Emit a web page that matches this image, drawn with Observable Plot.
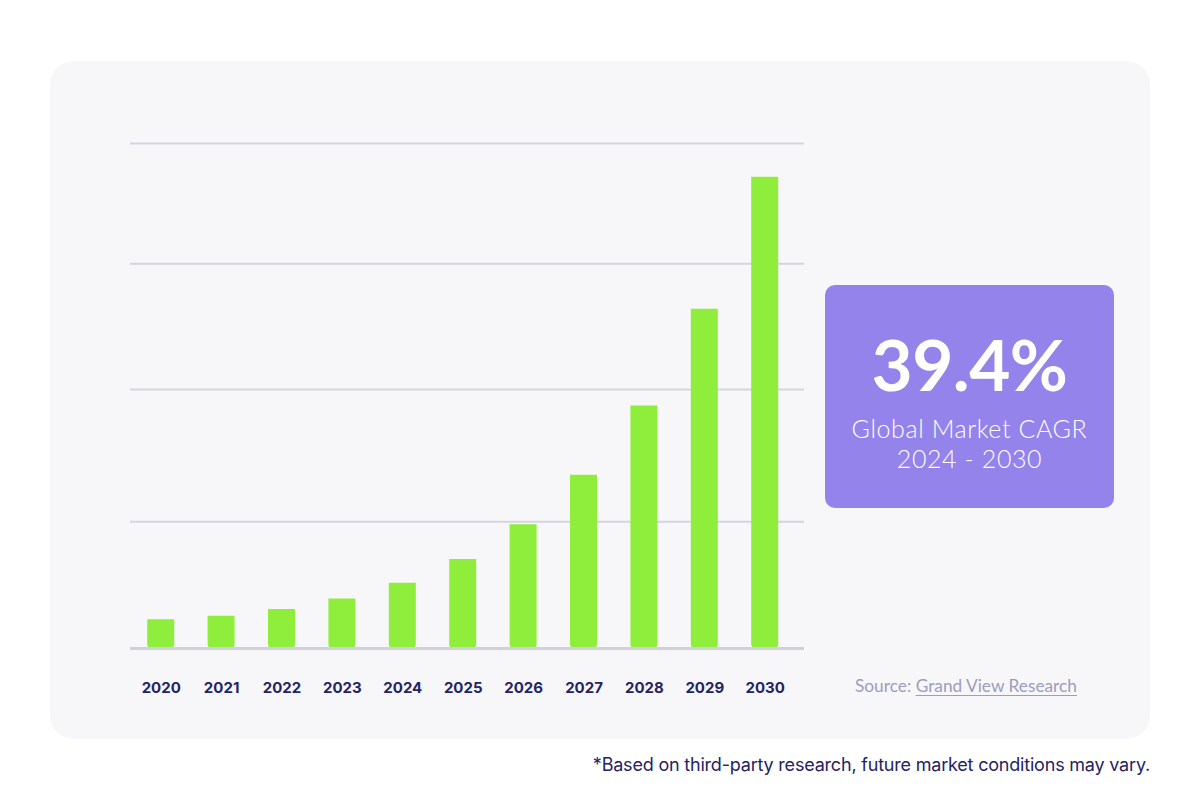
<!DOCTYPE html>
<html>
<head>
<meta charset="utf-8">
<script src="https://cdn.jsdelivr.net/npm/d3@7"></script>
<script src="https://cdn.jsdelivr.net/npm/@observablehq/plot@0.6"></script>
<style>
  html, body { margin: 0; padding: 0; background: #ffffff; }
  #root { position: relative; width: 1200px; height: 800px; overflow: hidden; font-family: Lato, "Open Sans", sans-serif; }
  #card { position: absolute; left: 50px; top: 61px; width: 1100px; height: 678px; background: #f7f7f9; border-radius: 24px; }
  #chart { position: absolute; left: 0; top: 0; }
  #callout { position: absolute; left: 825px; top: 285px; width: 289px; height: 223px; background: #9583ec; border-radius: 10px; color: #ffffff; text-align: center; }
  #callout .big { position: absolute; left: 0; right: 0; top: 43px; font-size: 71px; line-height: 71px; font-weight: 700; letter-spacing: -0.5px; }
  #callout .l1 { position: absolute; left: 0; right: 0; top: 127.5px; font-size: 25px; line-height: 30px; font-weight: 300; letter-spacing: 0.6px; }
  #callout .l2 { position: absolute; left: 0; right: 0; top: 157.5px; font-size: 25px; line-height: 30px; font-weight: 300; letter-spacing: 0.6px; }
  #source { position: absolute; left: 855px; top: 677px; font-size: 17.3px; line-height: 17px; color: #9d9dbc; white-space: nowrap; }
  #source span { text-decoration: underline; text-underline-offset: 3px; }
  #note { position: absolute; right: 50px; top: 756px; font-family: Inter, sans-serif; font-size: 18px; line-height: 18px; color: #242463; white-space: nowrap; letter-spacing: -0.2px; }
</style>
</head>
<body>
<div id="root">
  <div id="card"></div>
  <div id="chart"></div>
  <div id="callout">
    <div class="big" id="cagrValue"></div>
    <div class="l1" id="cagrLabel"></div>
    <div class="l2" id="cagrPeriod"></div>
  </div>
  <div id="source"></div>
  <div id="note"></div>
</div>
<script>
// ---- data ----
const years = ["2020", "2021", "2022", "2023", "2024", "2025", "2026", "2027", "2028", "2029", "2030"];
const marketSize = [5.7, 6.4, 7.7, 9.8, 12.9, 17.6, 24.5, 34.3, 48.0, 67.2, 93.3];
const gridValues = [25.1, 51.3, 76.2, 100];
const baselineValue = [0];

const cagrValue = "39.4%";
const cagrLabel = "Global Market CAGR";
const cagrPeriod = "2024 - 2030";
const sourcePrefix = "Source: ";
const sourceName = "Grand View Research";
const footnote = "*Based on third-party research, future market conditions may vary.";

const data = years.map((year, i) => ({year, value: marketSize[i]}));

const chart = Plot.plot({
  width: 1200,
  height: 800,
  marginLeft: 130,
  marginRight: 396,
  marginTop: 143,
  marginBottom: 152,
  style: {background: "transparent", fontFamily: "Inter, sans-serif", overflow: "visible"},
  x: {domain: years, paddingInner: 0.553, paddingOuter: 0.356, align: 0.4, round: false, label: null},
  y: {domain: [0, 100], axis: null},
  marks: [
    Plot.ruleY(gridValues, {stroke: "#d5d5e1", strokeWidth: 2}),
    Plot.barY(data, {x: "year", y: "value", fill: "#8fee3c", rx1y2: 4, rx2y2: 4}),
    Plot.ruleY(baselineValue, {stroke: "#d0d0dc", strokeWidth: 3}),
    Plot.axisX({tickSize: 0, tickPadding: 34, fontSize: 15, fontWeight: 700, fill: "#242463", label: null, style: {letterSpacing: "0.6px"}})
  ]
});
document.getElementById("chart").appendChild(chart);

document.getElementById("cagrValue").textContent = cagrValue;
document.getElementById("cagrLabel").textContent = cagrLabel;
document.getElementById("cagrPeriod").textContent = cagrPeriod;
const src = document.getElementById("source");
src.appendChild(document.createTextNode(sourcePrefix));
const srcSpan = document.createElement("span");
srcSpan.textContent = sourceName;
src.appendChild(srcSpan);
document.getElementById("note").textContent = footnote;
</script>
</body>
</html>
